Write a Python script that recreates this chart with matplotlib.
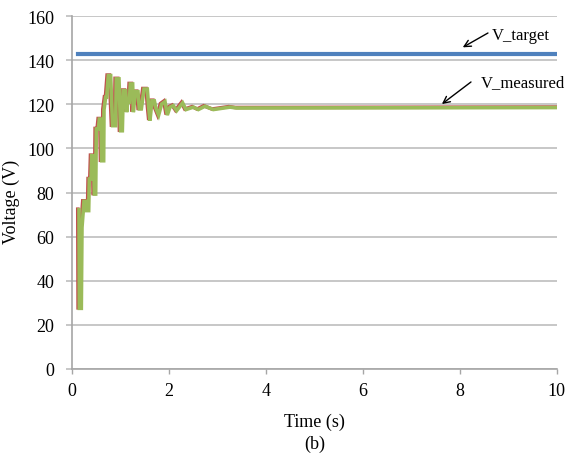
import matplotlib
matplotlib.use("Agg")
import matplotlib.pyplot as plt
import matplotlib.transforms as mtransforms

# --- DATA ---
t_measured = [0.144, 0.151, 0.192, 0.206, 0.247, 0.289, 0.302, 0.344, 0.357, 0.392,
              0.406, 0.447, 0.460, 0.488, 0.502, 0.543, 0.564, 0.598, 0.612, 0.653,
              0.660, 0.694, 0.715, 0.749, 0.797, 0.818, 0.838, 0.900, 0.914, 0.969,
              1.003, 1.038, 1.058, 1.106, 1.127, 1.148, 1.182, 1.203, 1.251, 1.265,
              1.306, 1.361, 1.388, 1.430, 1.485, 1.553, 1.581, 1.608, 1.649, 1.698,
              1.732, 1.787, 1.849, 1.918, 1.966, 2.021, 2.089, 2.158, 2.282, 2.351,
              2.502, 2.605, 2.742, 2.914, 3.258, 3.396, 10.0]
v_measured = [72.2, 27.5, 27.5, 64.2, 76.0, 76.0, 71.8, 71.8, 86.1, 86.1,
              96.7, 96.7, 79.3, 79.3, 108.8, 108.8, 113.3, 113.3, 94.4, 94.4,
              117.5, 123.2, 123.2, 133.0, 133.0, 120.9, 110.3, 110.3, 131.5, 131.5,
              108.0, 108.0, 126.2, 126.2, 116.4, 120.9, 120.9, 129.2, 129.2, 116.4,
              125.7, 125.7, 117.9, 117.9, 126.9, 126.9, 118.7, 112.6, 121.6, 121.6,
              118.1, 115.1, 120.1, 121.2, 115.1, 118.7, 119.4, 117.1, 120.6, 117.6,
              118.7, 117.6, 119.1, 117.6, 118.7, 118.3, 118.5]
t_target = [0.12, 10.0]
v_target = [142.8, 142.8]

x_ticks = [0, 2, 4, 6, 8, 10]
y_ticks = [0, 20, 40, 60, 80, 100, 120, 140, 160]

# --- STYLE ---
plt.rcParams['font.family'] = ['Liberation Serif', 'DejaVu Serif']
GRID_COLOR = '#BEBEBE'
AXIS_COLOR = '#A6A6A6'
FS = 13

fig = plt.figure(figsize=(5.67, 4.56), dpi=100)
ax = fig.add_axes([0.127, 0.1886, 0.855, 0.7741])

# red trace sits just behind the green one, shifted a pixel left
shift = mtransforms.ScaledTranslation(-1.2 / 100, 0.5 / 100, fig.dpi_scale_trans)
ax.plot(t_measured, v_measured, color='#C0504D', lw=2.6, solid_joinstyle='miter',
        transform=ax.transData + shift, zorder=3)
ax.plot(t_measured, v_measured, color='#9BBB59', lw=2.6, solid_joinstyle='miter', zorder=4)
ax.plot(t_target, v_target, color='#4F81BD', lw=3.0, zorder=4)

ax.set_xlim(0, 10)
ax.set_ylim(0, 160)
ax.set_xticks(x_ticks)
ax.set_yticks(y_ticks)

ax.yaxis.grid(True, color=GRID_COLOR, lw=1.2)
ax.set_axisbelow(True)
for s in ['top', 'right']:
    ax.spines[s].set_visible(False)
for s in ['left', 'bottom']:
    ax.spines[s].set_color(AXIS_COLOR)
    ax.spines[s].set_linewidth(1.2)
ax.tick_params(axis='y', length=4.3, width=1.2, color=GRID_COLOR, pad=8.5, labelsize=FS)
ax.tick_params(axis='x', length=3.6, width=1.0, color=AXIS_COLOR, pad=5.5, labelsize=FS)

# axis titles (Excel style: "(b)" caption sits under the x title)
ax.text(0.5, -0.147, "Time (s)", transform=ax.transAxes, ha='center', va='center', fontsize=FS)
ax.text(0.5, -0.21, "(b)", transform=ax.transAxes, ha='center', va='center', fontsize=FS)
ax.set_ylabel("Voltage (V)", fontsize=FS)
ax.yaxis.set_label_coords(-0.107, 0.476)

# --- ANNOTATIONS ---
arrow = dict(arrowstyle='->', color='black', lw=1.0, shrinkA=0, shrinkB=0, mutation_scale=12)
ax.annotate("", xy=(8.06, 145.8), xytext=(8.58, 152.3), arrowprops=arrow)
ax.text(8.66, 151.4, "V_target", fontsize=12, ha='left', va='center')
ax.annotate("", xy=(7.63, 120.1), xytext=(8.23, 130.1), arrowprops=arrow)
ax.text(8.43, 130.1, "V_measured", fontsize=12, ha='left', va='center')

fig.savefig("out.png", dpi=100)
